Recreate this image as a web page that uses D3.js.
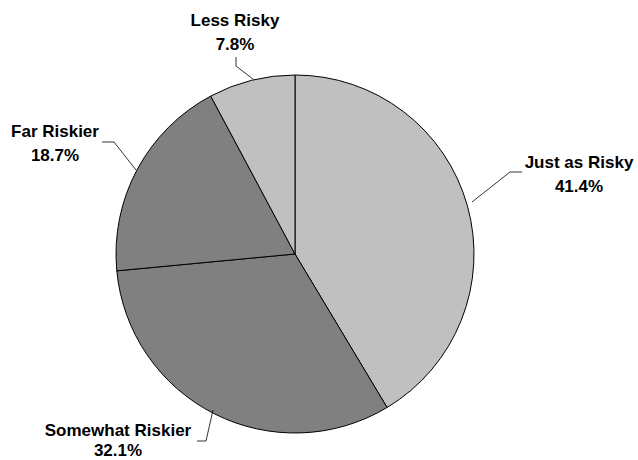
<!DOCTYPE html>
<html><head><meta charset="utf-8">
<script src="https://cdn.jsdelivr.net/npm/d3@7"></script>
<style>body{margin:0;background:#fff}svg{display:block}</style>
</head><body><svg id="c" width="638" height="460"></svg>
<script>
const categories = ["Just as Risky", "Somewhat Riskier", "Far Riskier", "Less Risky"];
const values = [41.4, 32.1, 18.7, 7.8];
const labels = ["41.4%", "32.1%", "18.7%", "7.8%"];
const colors = ["#c0c0c0", "#808080", "#808080", "#c0c0c0"];

const svg = d3.select("#c");
const cx = 295, cy = 254, r = 179;
const g = svg.append("g").attr("transform", `translate(${cx},${cy})`);
const pie = d3.pie().sort(null).value(d => d)(values);
const arc = d3.arc().innerRadius(0).outerRadius(r);
g.selectAll("path").data(pie).enter().append("path")
  .attr("d", arc).attr("fill", (d,i) => colors[i])
  .attr("stroke", "#000").attr("stroke-width", 1).attr("stroke-linejoin","round");

// label positions (text centre x, first baseline y, line gap) and leader polylines
const labelPos = [
  {x: 579, y: 168, gap: 24, line: [[522,172],[510,172],[472,202]]},
  {x: 118, y: 436, gap: 20, line: [[197,441],[206,441],[213,410]]},
  {x: 55, y: 137, gap: 24, line: [[102,142],[114,142],[136,170]]},
  {x: 235, y: 26, gap: 24, line: [[236,57],[236,66],[253,79]]}
];
const lineGen = d3.line();
labelPos.forEach((p, i) => {
  svg.append("path").attr("d", lineGen(p.line)).attr("fill","none")
    .attr("stroke","#000").attr("stroke-width",0.8);
  const t = svg.append("text").attr("text-anchor","middle")
    .attr("font-family","Liberation Sans, Arial, sans-serif")
    .attr("font-weight","bold").attr("font-size",17).attr("fill","#000");
  t.append("tspan").attr("x", p.x).attr("y", p.y).text(categories[i]);
  t.append("tspan").attr("x", p.x).attr("y", p.y + p.gap).text(labels[i]);
});
</script></body></html>
